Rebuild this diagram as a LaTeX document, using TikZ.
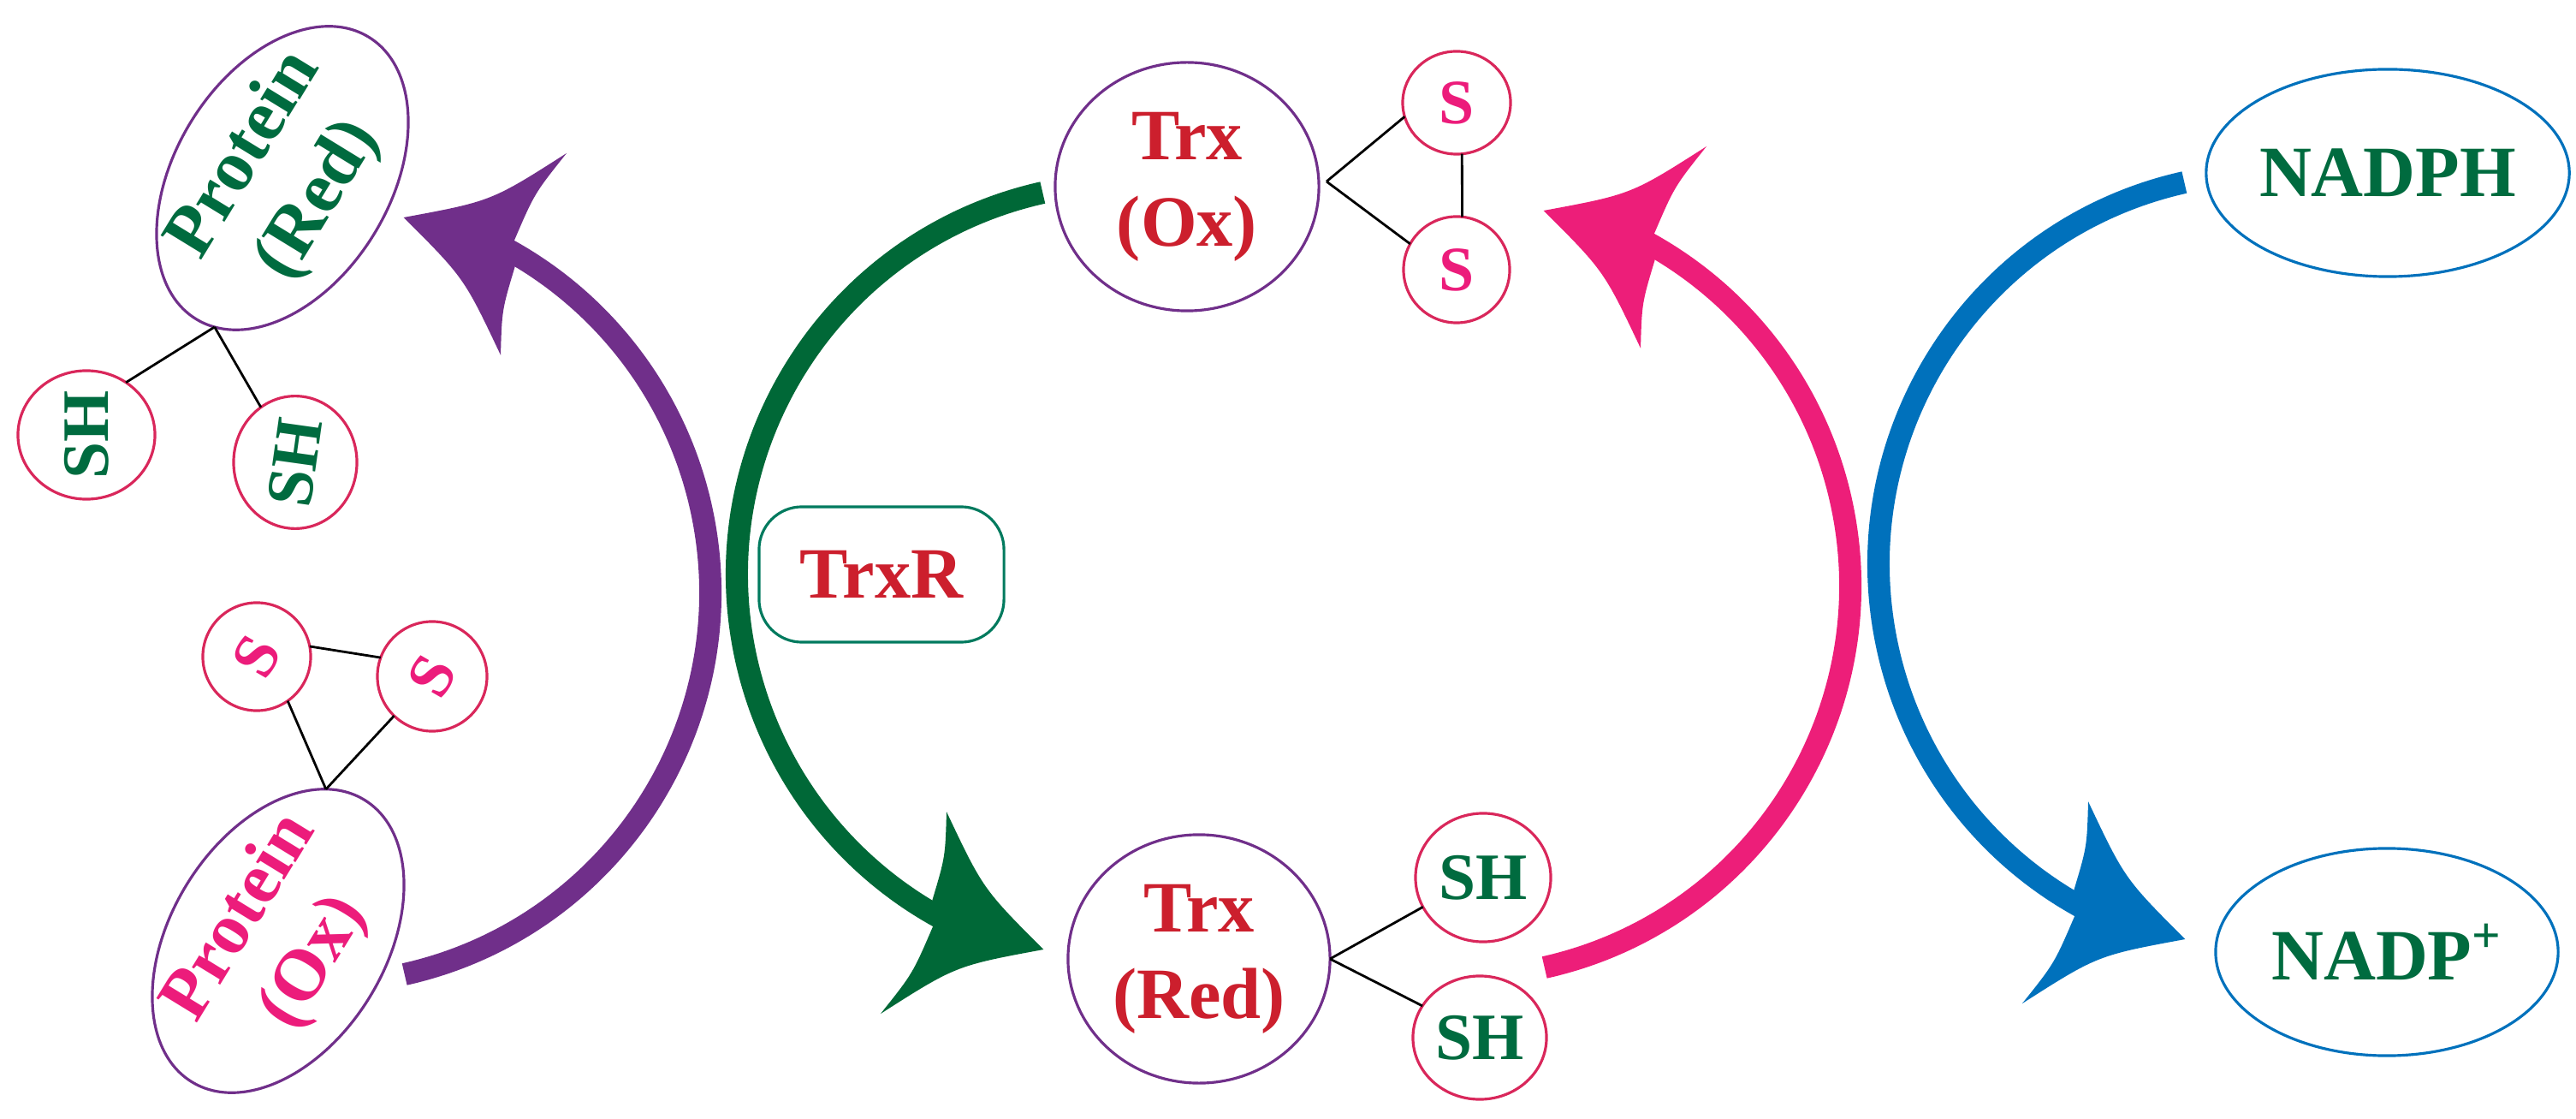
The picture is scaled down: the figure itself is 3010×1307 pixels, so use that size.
\documentclass[tikz,border=0pt]{standalone}
\usepackage{fontspec}
\setmainfont{Liberation Serif}
\usetikzlibrary{shapes.geometric}
\definecolor{cpurple}{HTML}{702F8A}
\definecolor{cgreen}{HTML}{006837}
\definecolor{cpink}{HTML}{ED1E79}
\definecolor{cblue}{HTML}{0071BC}
\definecolor{tred}{HTML}{CC1F2D}
\definecolor{tgreen}{HTML}{006B3F}
\definecolor{tpink}{HTML}{EC1C7B}
\definecolor{ccirc}{HTML}{D9275B}
\definecolor{cteal}{HTML}{007A5E}
\newcommand{\cycarrow}[3]{%
  \begin{scope}[shift={#2}, rotate=#3]
    \draw[draw=#1, line width=0.26cm] (77.4:457) arc[start angle=77.4, end angle=-62, radius=457];
    \fill[#1] (227.9,-411.1) .. controls (251.6,-466.2) .. (289.1,-513.1)
      .. controls (201.2,-457.0) .. (98.7,-438.0)
      .. controls (169.3,-367.4) .. (212.0,-277.2)
      .. controls (213.5,-330.0) .. (228.7,-380.6) -- cycle;
  \end{scope}}
\begin{document}
\begin{tikzpicture}[x=0.01cm, y=-0.01cm,
  every node/.style={inner sep=0pt, outer sep=0pt},
  ell/.style n args={2}{ellipse, minimum width=#1, minimum height=#2},
  bigtxt/.style={font=\fontsize{24}{28.7}\selectfont\bfseries, align=center},
  stxt/.style={font=\fontsize{21}{24}\selectfont\bfseries},
  shtxt/.style={font=\fontsize{22}{24}\selectfont\bfseries},
  outl/.style={line width=0.9pt},
  blk/.style={draw=black, line width=0.8pt}]
\useasboundingbox (0,0) rectangle (3010,1307);

% arcs with arrowheads
\cycarrow{cpurple}{(373,692)}{0}
\cycarrow{cpink}{(1705,684)}{0}
\cycarrow{cgreen}{(1318,671)}{180}
\cycarrow{cblue}{(2652,659)}{180}

% Protein (Red)
\node[ell={3.86cm}{2.44cm}, draw=cpurple, outl, rotate=58.5, bigtxt, text=tgreen] (pred) at (330,208) {Protein\\(Red)};
\node[ell={1.6cm}{1.5cm}, draw=ccirc, outl, shtxt, text=tgreen] (sh1) at (101,508) {\rotatebox{90}{SH}};
\node[ell={1.44cm}{1.38cm}, draw=ccirc, outl, shtxt, text=tgreen] (sh2) at (345,540) {\rotatebox{82}{SH}};
\coordinate (j1) at (pred.187.5);
\draw[blk] (j1) -- (sh1.53.5);
\draw[blk] (j1) -- (sh2.122);

% Protein (Ox)
\node[ell={3.86cm}{2.44cm}, draw=cpurple, outl, rotate=58.5, bigtxt, text=tpink] (pox) at (325,1099) {Protein\\(Ox)};
\node[ell={1.26cm}{1.26cm}, draw=ccirc, outl, stxt, text=tpink] (s1) at (300,767) {\rotatebox{60}{S}};
\node[ell={1.28cm}{1.28cm}, draw=ccirc, outl, stxt, text=tpink] (s2) at (505,790) {\rotatebox{60}{S}};
\coordinate (j2) at (pox.14.3);
\draw[blk] (j2) -- (s1.-55);
\draw[blk] (j2) -- (s2.226);
\draw[blk] (s1.11.5) -- (s2.160.5);

% TrxR
\node[draw=cteal, outl, rounded corners=0.5cm, minimum width=2.86cm, minimum height=1.58cm, bigtxt, text=tred] (trxr) at (1030,671) {TrxR};

% Trx (Ox)
\node[ell={3.08cm}{2.9cm}, draw=cpurple, outl, bigtxt, text=tred] (tox) at (1387,218) {Trx\\(Ox)};
\node[ell={1.26cm}{1.2cm}, draw=ccirc, outl, stxt, text=tpink] (stop) at (1702,120) {S};
\node[ell={1.24cm}{1.24cm}, draw=ccirc, outl, stxt, text=tpink] (sbot) at (1702,315) {S};
\coordinate (j3) at (1550,212);
\draw[blk] (j3) -- (stop.195);
\draw[blk] (j3) -- (sbot.151.5);
\draw[blk] (stop.-84) -- (sbot.84);

% Trx (Red)
\node[ell={3.06cm}{2.9cm}, draw=cpurple, outl, bigtxt, text=tred] (tredn) at (1401,1120) {Trx\\(Red)};
\node[ell={1.58cm}{1.5cm}, draw=ccirc, outl, shtxt, text=tgreen] (shtop) at (1733,1025) {SH};
\node[ell={1.56cm}{1.44cm}, draw=ccirc, outl, shtxt, text=tgreen] (shbot) at (1729,1212) {SH};
\coordinate (j4) at (tredn.east);
\draw[blk] (j4) -- (shtop.206);
\draw[blk] (j4) -- (shbot.151);

% NADPH / NADP+
\node[ell={4.0cm}{2.42cm}, draw=cblue, outl, bigtxt, text=tgreen] (nadph) at (2790,202) {NADPH};
\node[ell={4.0cm}{2.42cm}, draw=cblue, outl, bigtxt, text=tgreen] (nadp) at (2789,1112) {NADP\textsuperscript{+}};
\end{tikzpicture}
\end{document}
